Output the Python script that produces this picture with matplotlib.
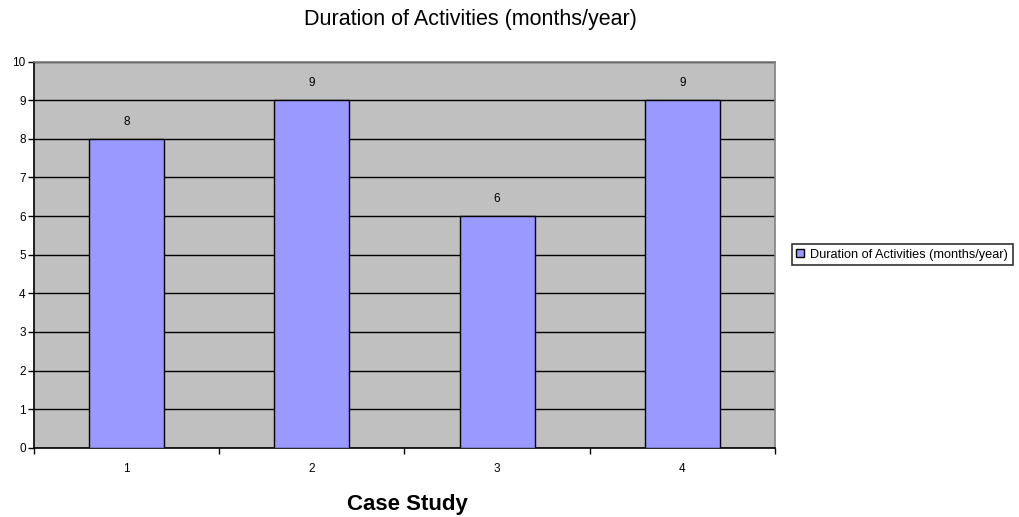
import matplotlib.pyplot as plt
import numpy as np

plt.rcParams['font.family'] = ['Liberation Sans', 'DejaVu Sans']

cases = ["1", "2", "3", "4"]
durations = [8, 9, 6, 9]
series_name = "Duration of Activities (months/year)"

fig = plt.figure(figsize=(10.19, 5.17), dpi=100)
ax = fig.add_axes([0.0334, 0.134, 0.7271, 0.7467])
ax.set_facecolor('#C0C0C0')

centers = np.arange(len(cases)) + 0.5
bars = ax.bar(centers, durations, 0.405, color='#9999FF', edgecolor='black',
              linewidth=1.0, label=series_name, zorder=3)
ax.bar_label(bars, padding=8, fontsize=8.5)

ax.set_xlim(0, len(cases))
ax.set_ylim(0, 10)
ax.set_yticks(range(0, 11))
ax.yaxis.grid(True, color='black', linewidth=1.0, zorder=1)
ax.set_axisbelow(True)

# category boundaries get the tick marks, centres get the labels
ax.set_xticks(range(0, len(cases) + 1))
ax.set_xticklabels([])
ax.set_xticks(centers, minor=True)
ax.set_xticklabels(cases, minor=True)
ax.tick_params(axis='x', which='minor', length=0, pad=11, labelsize=8.5)
ax.tick_params(axis='x', which='major', length=4, width=1, direction='out')
ax.tick_params(axis='y', length=4, width=1, direction='out', labelsize=8.5, pad=2)

for s in ['left', 'bottom']:
    ax.spines[s].set_color('black')
    ax.spines[s].set_linewidth(1.2)
for s in ['top', 'right']:
    ax.spines[s].set_color('#808080')
    ax.spines[s].set_linewidth(1.2)

fig.text(0.4, 0.025, 'Case Study', fontsize=16, fontweight='bold',
         ha='center', va='center')
fig.text(0.462, 0.963, series_name, fontsize=15.5, ha='center', va='center')

leg = fig.legend(loc='center left', bbox_to_anchor=(0.777, 0.507), fontsize=9.2,
                 frameon=True, fancybox=False, edgecolor='black',
                 handlelength=0.6, handleheight=0.6, handletextpad=0.5,
                 borderpad=0.35, borderaxespad=0)
leg.get_frame().set_linewidth(1.2)

fig.savefig('out.png', dpi=100)
